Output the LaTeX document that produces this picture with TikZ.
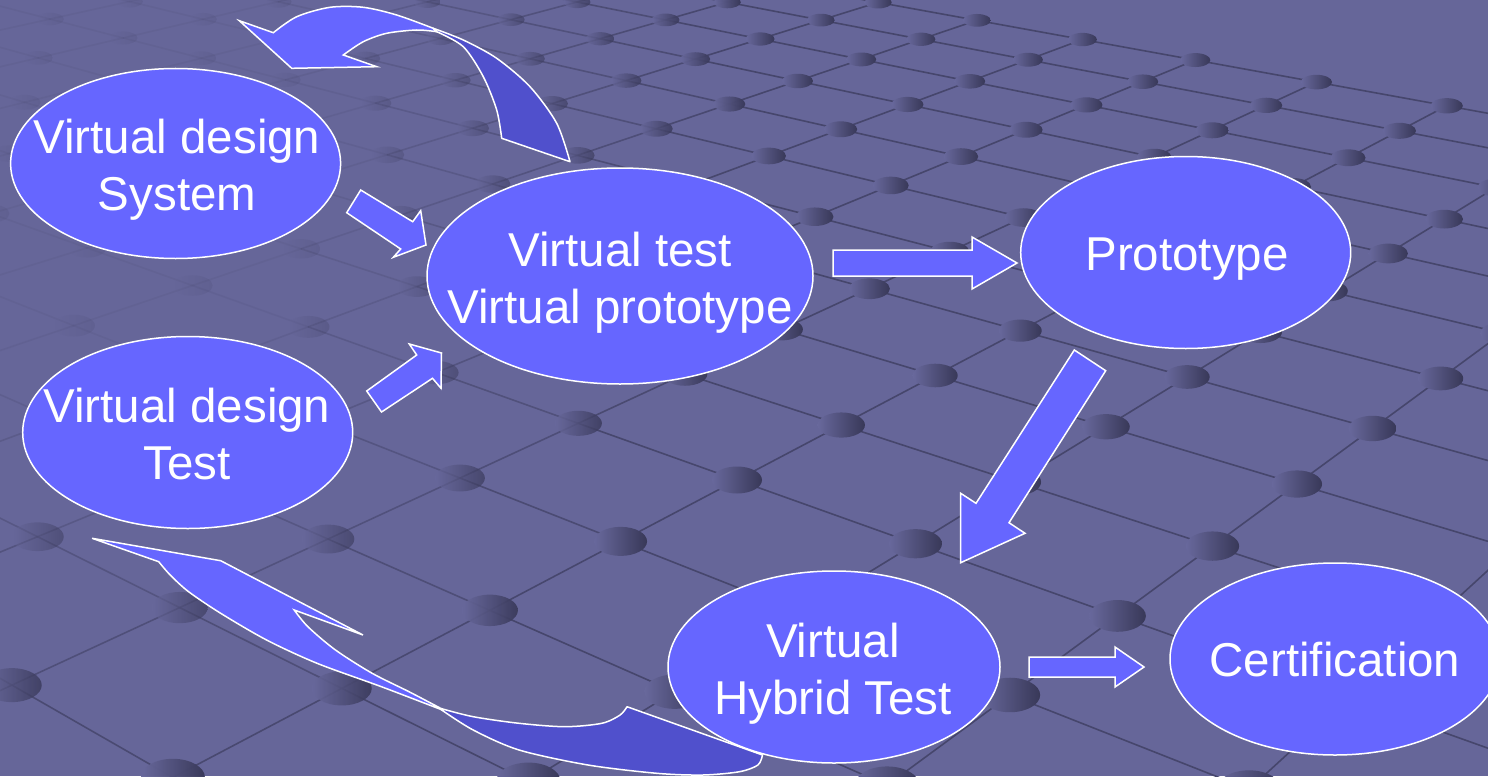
\documentclass[tikz,border=0pt]{standalone}
\usepackage{fontspec}
\setmainfont{Liberation Sans}
\usetikzlibrary{shapes.geometric}
\definecolor{bgc}{RGB}{102,102,153}
\definecolor{gridc}{RGB}{70,70,108}
\definecolor{dotL}{RGB}{104,104,156}
\definecolor{dotD}{RGB}{56,56,88}
\definecolor{nodec}{RGB}{102,102,255}
\definecolor{darkc}{RGB}{80,80,204}
\pgfmathdeclarefunction{gw}{2}{\pgfmathparse{1-0.0585*(#1)-0.055*(#2)}}
\pgfmathdeclarefunction{gx}{2}{\pgfmathparse{737+(168*(#1)-110*(#2))/(1-0.0585*(#1)-0.055*(#2))}}
\pgfmathdeclarefunction{gy}{2}{\pgfmathparse{480+(60*(#1)+58*(#2))/(1-0.0585*(#1)-0.055*(#2))}}
\pgfmathdeclarefunction{gop}{2}{\pgfmathparse{min(1,max(0.12,(100*veclen(((#1)-100)/100,((#2)-150)/100)-150)/500))}}
\tikzset{
  gridline/.style={gridc, line width=1.6bp},
  dotshade/.style={left color=dotL, right color=dotD},
  ellnode/.style={ellipse, draw=white, fill=nodec, line width=1.5bp, inner sep=0pt},
  lbl/.style={text=white, font=\fontsize{47.5bp}{57bp}\selectfont, inner sep=0pt, anchor=base},
  lightarrow/.style={fill=nodec, draw=white, line width=1.5bp, line join=miter},
  darkarrow/.style={fill=darkc, draw=white, line width=1.5bp, line join=round}
}
\begin{document}
\begin{tikzpicture}[x=1bp,y=-1bp]
\useasboundingbox (0,0) rectangle (1488,776);
\fill[bgc] (0,0) rectangle (1488,776);
% ---- perspective grid background ----
\begin{scope}
\clip (0,0) rectangle (1488,776);
\foreach \v in {-10,...,6}{
  \foreach \u in {-20,...,7}{
    \pgfmathsetmacro\xa{gx(\u,\v)}\pgfmathsetmacro\ya{gy(\u,\v)}
    \pgfmathsetmacro\xb{gx(\u+1,\v)}\pgfmathsetmacro\yb{gy(\u+1,\v)}
    \pgfmathsetmacro\xm{(\xa+\xb)/2}\pgfmathsetmacro\ym{(\ya+\yb)/2}
    \pgfmathtruncatemacro\vis{(\xm>-300)&&(\xm<1800)&&(\ym>-300)&&(\ym<1100)}
    \ifnum\vis=1
      \pgfmathsetmacro\op{gop(\xm,\ym)}
      \draw[gridline, draw opacity=\op] (\xa,\ya) -- (\xb,\yb);
    \fi
  }
}
\foreach \u in {-20,...,8}{
  \foreach \v in {-10,...,5}{
    \pgfmathsetmacro\xa{gx(\u,\v)}\pgfmathsetmacro\ya{gy(\u,\v)}
    \pgfmathsetmacro\xb{gx(\u,\v+1)}\pgfmathsetmacro\yb{gy(\u,\v+1)}
    \pgfmathsetmacro\xm{(\xa+\xb)/2}\pgfmathsetmacro\ym{(\ya+\yb)/2}
    \pgfmathtruncatemacro\vis{(\xm>-300)&&(\xm<1800)&&(\ym>-300)&&(\ym<1100)}
    \ifnum\vis=1
      \pgfmathsetmacro\op{gop(\xm,\ym)}
      \draw[gridline, draw opacity=\op] (\xa,\ya) -- (\xb,\yb);
    \fi
  }
}
\foreach \v in {-10,...,6}{
  \foreach \u in {-20,...,8}{
    \pgfmathsetmacro\w{gw(\u,\v)}
    \pgfmathsetmacro\xa{gx(\u,\v)}\pgfmathsetmacro\ya{gy(\u,\v)}
    \pgfmathtruncatemacro\vis{(\xa>-60)&&(\xa<1550)&&(\ya>-40)&&(\ya<820)}
    \ifnum\vis=1
      \pgfmathsetmacro\rx{25/\w}
      \pgfmathsetmacro\ry{13.5/(\w^1.3)}
      \pgfmathsetmacro\op{gop(\xa,\ya)}
      \shade[dotshade, opacity=\op] (\xa,\ya) ellipse [x radius=\rx, y radius=\ry];
    \fi
  }
}
\end{scope}
% ---- ellipses ----
\node[ellnode, minimum width=330bp, minimum height=190bp] (sys) at (175.6,163.5) {};
\node[ellnode, minimum width=330bp, minimum height=192bp] (tst) at (187.7,432.5) {};
\node[ellnode, minimum width=386bp, minimum height=216bp] (vt) at (620,276) {};
\node[ellnode, minimum width=330bp, minimum height=192bp] (pro) at (1185.7,252.5) {};
\node[ellnode, minimum width=332bp, minimum height=192bp] (hyb) at (834,667) {};
\node[ellnode, minimum width=330bp, minimum height=192bp] (cer) at (1335,659) {};
% ---- straight block arrows ----
\filldraw[lightarrow] (360.7,190) -- (412.7,221.7) -- (420.7,210.7) -- (426,245) -- (393.3,257.3) -- (400.7,249) -- (346.7,212.7) -- cycle;
\filldraw[lightarrow] (366.7,391) -- (416.7,355) -- (409.3,344) -- (441.5,353) -- (441,388.3) -- (432.5,378.3) -- (381.5,412) -- cycle;
\filldraw[lightarrow] (833,250) -- (972,250) -- (972,237) -- (1017,263) -- (972,289) -- (972,276) -- (833,276) -- cycle;
\filldraw[lightarrow] (1074.3,350) -- (1105.7,370.7) -- (1009,522.7) -- (1025,533.3) -- (960.7,562.7) -- (960.7,493.3) -- (976,503.3) -- cycle;
\filldraw[lightarrow] (1029,657) -- (1115,657) -- (1115,647) -- (1144,667) -- (1115,687) -- (1115,677) -- (1029,677) -- cycle;
% ---- curved arrow at top ----
\filldraw[lightarrow] (239.3,20.7) -- (273.3,32.7)
  -- plot[smooth] coordinates {(273.3,32.7) (296.7,16.7) (330,7.3) (363.3,7.3) (396.7,15) (433.3,28.3)}
  -- plot[smooth] coordinates {(436.7,31.7) (416.7,30) (386.7,33.3) (363.3,41.7) (343.3,55)}
  -- (376.7,66.7) -- (291.7,68.3) -- cycle;
\filldraw[darkarrow]
  plot[smooth] coordinates {(433.3,28.3) (463.3,40) (496.7,58.3) (530,86.7) (556.7,123.3) (570,161.7)}
  -- (501.7,138.3)
  -- plot[smooth] coordinates {(501.7,138.3) (496.7,110) (483.3,76.7) (463.3,46.7) (436.7,31.7)}
  -- cycle;
% ---- curved arrow at bottom ----
\filldraw[lightarrow] (92.1,538.3) -- (220.7,560.7) -- (363,635) -- (294.2,610)
  -- plot[smooth] coordinates {(294.2,610) (307.9,626.7) (335.5,650) (372.2,673.3) (409,691.7) (441,708.5)}
  -- plot[smooth] coordinates {(441,709.5) (381.4,686.7) (317.1,663.3) (266.6,640) (220.7,613.3) (188.6,591.7) (170.2,575) (158.7,561.7)}
  -- cycle;
\filldraw[darkarrow]
  plot[smooth] coordinates {(441,708.5) (473.2,716.7) (519.1,723.3) (565,726.7) (601.8,723.3) (620.1,715) (627,706.7)}
  -- (762.5,755)
  -- plot[smooth] coordinates {(762.5,755) (757.9,765) (739.5,771.7) (702.8,775) (656.9,773.3) (588,765) (519.1,750) (473.2,730) (441,709.5)}
  -- cycle;
% ---- labels ----
\node[lbl] (sysa) at (177,153.5) {Virtual design};
\node[lbl] (sysb) at (177,210.5) {System};
\node[lbl] (tsta) at (187,422.5) {Virtual design};
\node[lbl] (tstb) at (187,479.5) {Test};
\node[lbl] (vta) at (620,266) {Virtual test};
\node[lbl] (vtb) at (620,323) {Virtual prototype};
\node[lbl] (proa) at (1187,270) {Prototype};
\node[lbl] (hyba) at (833,657) {Virtual};
\node[lbl] (hybb) at (833,714) {Hybrid Test};
\node[lbl] (cera) at (1335,676.5) {Certification};
\end{tikzpicture}
\end{document}
